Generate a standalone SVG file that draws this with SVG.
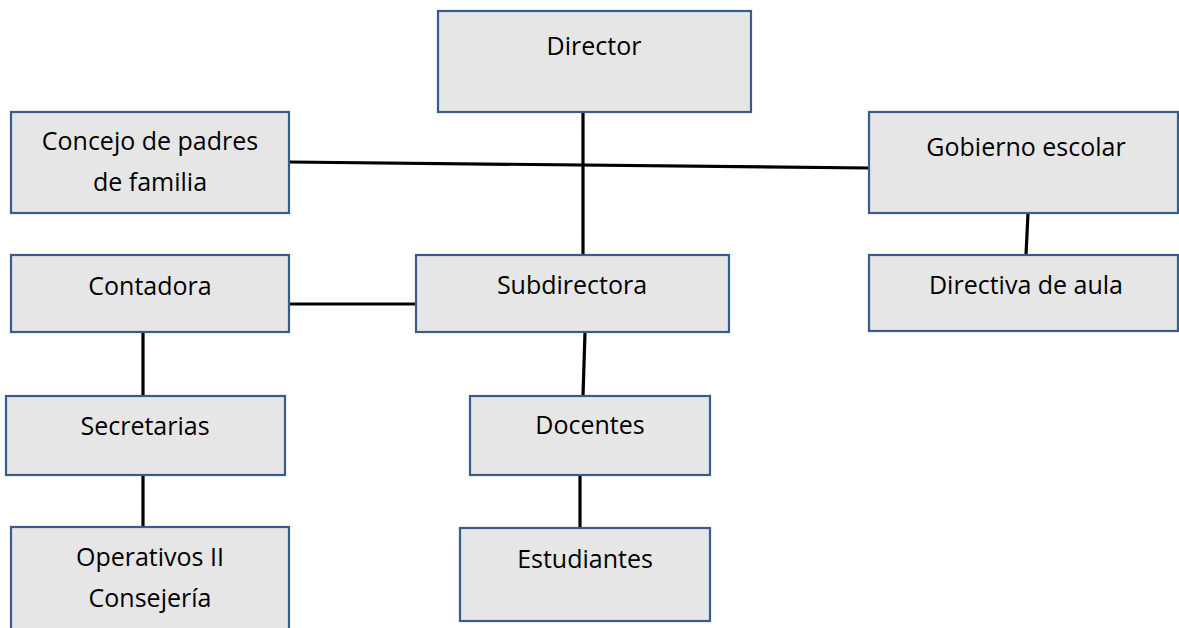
<svg xmlns="http://www.w3.org/2000/svg" width="1179" height="628" viewBox="0 0 1179 628">
<style>
.box{fill:#e6e6e6;stroke:#385d8a;stroke-width:2.2}
.lbl{font-family:"Open Sans","Liberation Sans",sans-serif;font-size:25px;fill:#000;text-anchor:middle}
.con{stroke:#000;stroke-width:3.2;fill:none}
</style>
<rect width="1179" height="628" fill="#fff"/>
<g id="connectors">
<line class="con" x1="583" y1="112" x2="583" y2="255"/>
<line class="con" x1="289" y1="162" x2="869" y2="168"/>
<line class="con" x1="287" y1="304" x2="416" y2="304"/>
<line class="con" x1="143" y1="332" x2="143" y2="396"/>
<line class="con" x1="143" y1="475" x2="143" y2="527"/>
<line class="con" x1="585" y1="332" x2="583" y2="396"/>
<line class="con" x1="580" y1="475" x2="580" y2="528"/>
<line class="con" x1="1028" y1="213" x2="1026" y2="255"/>
</g>
<g id="director"><rect class="box" x="438" y="11" width="313" height="101"/><text class="lbl" x="594" y="55">Director</text></g>
<g id="concejo"><rect class="box" x="11" y="112" width="278" height="101"/><text class="lbl" x="150" y="150">Concejo de padres</text><text class="lbl" x="150" y="191">de familia</text></g>
<g id="gobierno"><rect class="box" x="869" y="112" width="309" height="101"/><text class="lbl" x="1026" y="156">Gobierno escolar</text></g>
<g id="contadora"><rect class="box" x="11" y="255" width="278" height="77"/><text class="lbl" x="150" y="295">Contadora</text></g>
<g id="subdirectora"><rect class="box" x="416" y="255" width="313" height="77"/><text class="lbl" x="572" y="294">Subdirectora</text></g>
<g id="directiva"><rect class="box" x="869" y="255" width="309" height="76"/><text class="lbl" x="1026" y="294">Directiva de aula</text></g>
<g id="secretarias"><rect class="box" x="6" y="396" width="279" height="79"/><text class="lbl" x="145" y="435">Secretarias</text></g>
<g id="docentes"><rect class="box" x="470" y="396" width="240" height="79"/><text class="lbl" x="590" y="434">Docentes</text></g>
<g id="operativos"><rect class="box" x="11" y="527" width="278" height="110"/><text class="lbl" x="150" y="566">Operativos II</text><text class="lbl" x="150" y="607">Consejería</text></g>
<g id="estudiantes"><rect class="box" x="460" y="528" width="250" height="93"/><text class="lbl" x="585" y="568">Estudiantes</text></g>
</svg>
